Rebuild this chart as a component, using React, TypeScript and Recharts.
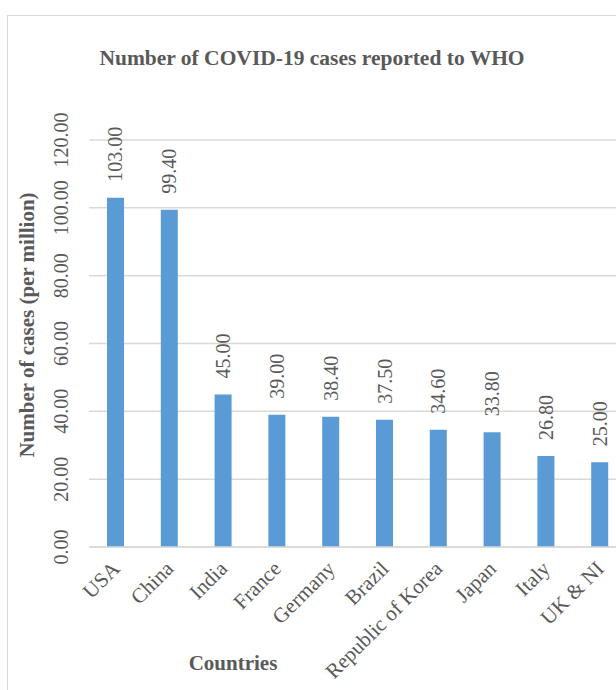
import React from "react";
import { BarChart, Bar, XAxis, YAxis, CartesianGrid, LabelList } from "recharts";

const countries = [
  "USA",
  "China",
  "India",
  "France",
  "Germany",
  "Brazil",
  "Republic of Korea",
  "Japan",
  "Italy",
  "UK & NI",
];
const cases = [103.0, 99.4, 45.0, 39.0, 38.4, 37.5, 34.6, 33.8, 26.8, 25.0];
const yTicks = [0, 20, 40, 60, 80, 100, 120];

const data = countries.map((country, i) => ({ country, cases: cases[i] }));

const FONT = '"Liberation Serif", "Times New Roman", serif';
const TEXT = "#595959";
const BAR = "#5B9BD5";
const GRID = "#D9D9D9";

function YTick({ y, payload }: any) {
  return (
    <text
      x={61}
      y={y}
      transform={`rotate(-90, 61, ${y})`}
      textAnchor="middle"
      dy="0.35em"
      fontSize={20}
      fontFamily={FONT}
      fill={TEXT}
    >
      {Number(payload.value).toFixed(2)}
    </text>
  );
}

function XTick({ x, y, payload }: any) {
  const ax = x + 5;
  const ay = y + 15;
  return (
    <text
      x={ax}
      y={ay}
      transform={`rotate(-45, ${ax}, ${ay})`}
      textAnchor="end"
      fontSize={21}
      fontFamily={FONT}
      fill={TEXT}
    >
      {payload.value}
    </text>
  );
}

function ValueLabel({ x, y, width, value }: any) {
  const cx = x + width / 2;
  const cy = y - 16;
  return (
    <text
      x={cx}
      y={cy}
      transform={`rotate(-90, ${cx}, ${cy})`}
      textAnchor="start"
      dy="0.35em"
      fontSize={20}
      fontFamily={FONT}
      fill={TEXT}
    >
      {Number(value).toFixed(2)}
    </text>
  );
}

export default function App() {
  return (
    <div style={{ position: "relative", width: 616, height: 690, overflow: "hidden", background: "#fff" }}>
      <style>{"body{margin:0}"}</style>
      {/* Rahmen, rechts und unten abgeschnitten */}
      <div
        style={{
          position: "absolute",
          left: 7,
          top: 15,
          width: 700,
          height: 700,
          border: `1px solid ${GRID}`,
        }}
      />
      <svg style={{ position: "absolute", left: 0, top: 0 }} width={616} height={690}>
        <text
          x={312}
          y={65}
          textAnchor="middle"
          fontSize={21.5}
          fontWeight="bold"
          fontFamily={FONT}
          fill={TEXT}
        >
          Number of COVID-19 cases reported to WHO
        </text>
        <text
          x={27}
          y={325}
          transform="rotate(-90, 27, 325)"
          textAnchor="middle"
          dy="0.35em"
          fontSize={21}
          fontWeight="bold"
          fontFamily={FONT}
          fill={TEXT}
        >
          Number of cases (per million)
        </text>
        <text
          x={233}
          y={670}
          textAnchor="middle"
          fontSize={21}
          fontWeight="bold"
          fontFamily={FONT}
          fill={TEXT}
        >
          Countries
        </text>
      </svg>
      <div style={{ position: "absolute", left: 0, top: 0 }}>
        <BarChart
          width={640}
          height={690}
          data={data}
          margin={{ top: 140, right: 13, left: 0, bottom: 0 }}
        >
          <CartesianGrid vertical={false} stroke={GRID} strokeWidth={1.5} />
          <XAxis
            dataKey="country"
            interval={0}
            tickLine={false}
            axisLine={{ stroke: GRID, strokeWidth: 1.5 }}
            tick={<XTick />}
            height={143}
          />
          <YAxis
            domain={[0, 120]}
            ticks={yTicks}
            width={89}
            axisLine={false}
            tickLine={false}
            tick={<YTick />}
          />
          <Bar dataKey="cases" fill={BAR} barSize={17} isAnimationActive={false}>
            <LabelList dataKey="cases" content={<ValueLabel />} />
          </Bar>
        </BarChart>
      </div>
    </div>
  );
}
